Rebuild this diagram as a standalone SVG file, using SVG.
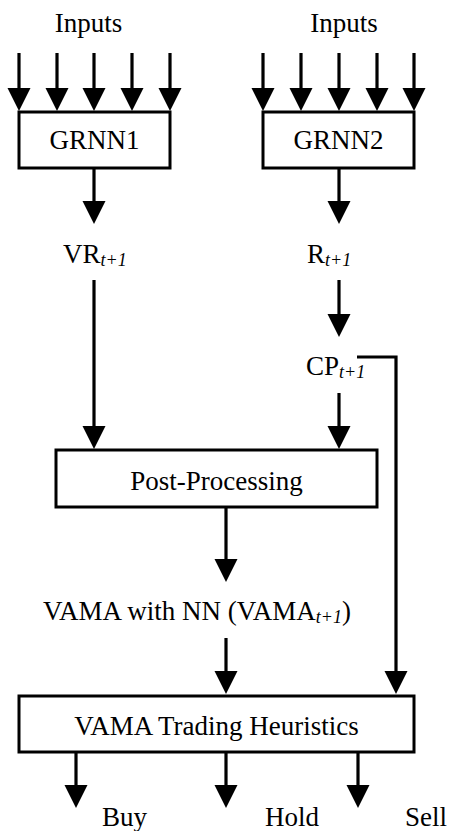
<svg xmlns="http://www.w3.org/2000/svg" width="451" height="831" viewBox="0 0 451 831">
  <style>
    text { font-family: "Liberation Serif", Tinos, "Times New Roman", "DejaVu Serif", serif; font-size: 27px; fill: #000; }
    .sub { font-style: italic; font-size: 18px; }
    .box { fill: #fff; stroke: #000; stroke-width: 3; }
    .wire { fill: none; stroke: #000; stroke-width: 3.2; marker-end: url(#head); }
  </style>
  <defs>
    <marker id="head" markerUnits="userSpaceOnUse" markerWidth="23" markerHeight="24" viewBox="0 0 23 24" refX="1" refY="12" orient="auto">
      <path d="M0,0.5 L23,12 L0,23.5 Z" fill="#000"/>
    </marker>
  </defs>

  <rect width="451" height="831" fill="#fff"/>

  <!-- connectors -->
  <g id="connectors">
    <line class="wire" x1="19" y1="53" x2="19" y2="89"/>
    <line class="wire" x1="57" y1="53" x2="57" y2="89"/>
    <line class="wire" x1="94" y1="53" x2="94" y2="89"/>
    <line class="wire" x1="132" y1="53" x2="132" y2="89"/>
    <line class="wire" x1="170" y1="53" x2="170" y2="89"/>

    <line class="wire" x1="263" y1="53" x2="263" y2="89"/>
    <line class="wire" x1="301" y1="53" x2="301" y2="89"/>
    <line class="wire" x1="339" y1="53" x2="339" y2="89"/>
    <line class="wire" x1="377" y1="53" x2="377" y2="89"/>
    <line class="wire" x1="414" y1="53" x2="414" y2="89"/>

    <line class="wire" x1="94" y1="169" x2="94" y2="202"/>
    <line class="wire" x1="339" y1="169" x2="339" y2="202"/>

    <line class="wire" x1="94" y1="280" x2="94" y2="427"/>
    <line class="wire" x1="339" y1="280" x2="339" y2="315"/>
    <line class="wire" x1="339" y1="393" x2="339" y2="427"/>
    <polyline class="wire" points="357,357 396,357 396,672"/>

    <line class="wire" x1="226" y1="507" x2="226" y2="560"/>
    <line class="wire" x1="226" y1="638" x2="226" y2="672"/>

    <line class="wire" x1="76" y1="752" x2="76" y2="786"/>
    <line class="wire" x1="226" y1="752" x2="226" y2="786"/>
    <line class="wire" x1="358" y1="752" x2="358" y2="786"/>
  </g>

  <!-- labels and boxes -->
  <g id="inputs1"><text x="88.5" y="32" text-anchor="middle">Inputs</text></g>
  <g id="inputs2"><text x="344" y="32" text-anchor="middle">Inputs</text></g>

  <g id="grnn1">
    <rect class="box" x="19" y="112" width="151" height="56"/>
    <text x="94.5" y="149" text-anchor="middle">GRNN1</text>
  </g>
  <g id="grnn2">
    <rect class="box" x="263" y="112" width="151" height="56"/>
    <text x="338.5" y="149" text-anchor="middle">GRNN2</text>
  </g>

  <g id="vr"><text x="63" y="263">VR<tspan class="sub" dy="3">t+1</tspan></text></g>
  <g id="r"><text x="307" y="263">R<tspan class="sub" dy="3">t+1</tspan></text></g>
  <g id="cp"><text x="306" y="375">CP<tspan class="sub" dy="3">t+1</tspan></text></g>

  <g id="post-processing">
    <rect class="box" x="56" y="450" width="321" height="57"/>
    <text x="216.5" y="490" text-anchor="middle">Post-Processing</text>
  </g>

  <g id="vama"><text x="43" y="620">VAMA with NN (VAMA<tspan class="sub" dy="3">t+1</tspan><tspan dy="-3">)</tspan></text></g>

  <g id="heuristics">
    <rect class="box" x="19" y="696" width="395" height="56"/>
    <text x="216.5" y="735" text-anchor="middle">VAMA Trading Heuristics</text>
  </g>

  <g id="buy"><text x="102" y="826">Buy</text></g>
  <g id="hold"><text x="265" y="826">Hold</text></g>
  <g id="sell"><text x="405" y="826">Sell</text></g>
</svg>
